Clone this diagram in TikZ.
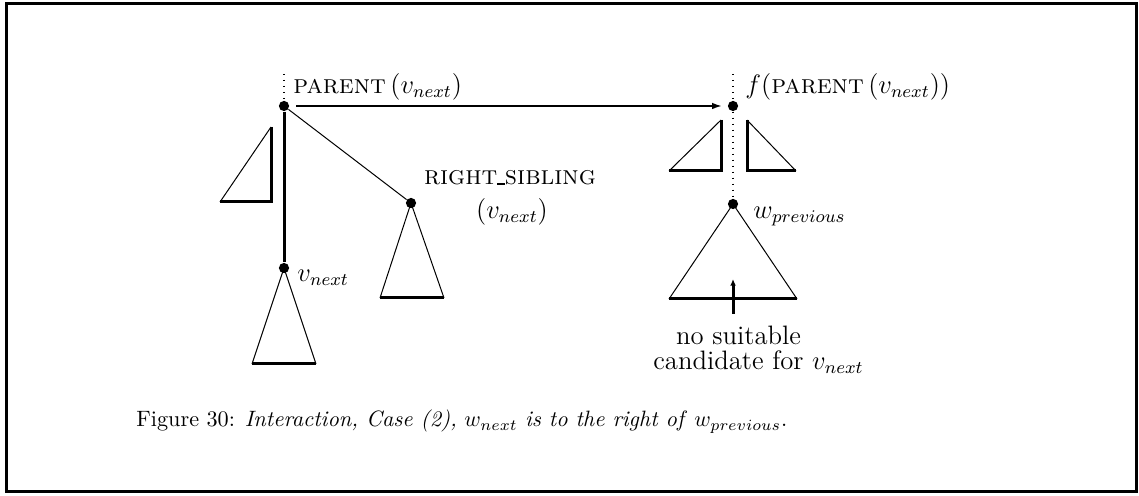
\documentclass[tikz,border=0pt]{standalone}
\usetikzlibrary{arrows.meta}
\begin{document}
\begin{tikzpicture}[x=0.45pt,y=-0.45pt,
  dot/.style={circle,fill,inner sep=0pt,minimum size=4.6pt},
  thickline/.style={line width=1.35pt},
  thinline/.style={line width=0.45pt},
  dotline/.style={line width=0.5pt,dash pattern=on 0.5pt off 2.2pt},
  lbl/.style={inner sep=0pt,font=\fontsize{12}{14.4}\selectfont},
  arr/.style={-{Latex[length=4.5pt,width=3pt]}},
  sarr/.style={-{Latex[length=3pt,width=2.6pt]}}]
\useasboundingbox (0,0) rectangle (1139,496);
\draw[line width=1.35pt] (6.5,3.5) rectangle (1136.5,491.5);

% left tree
\node[dot] (p) at (284,106) {};
\node[dot] (vn) at (284,268) {};
\node[dot] (rs) at (411,203) {};
\coordinate (ptop) at (284,74);
\draw[dotline] (ptop) -- (p);
\draw[thickline] (p) -- (vn);
\draw[thinline] (p) -- (rs);
% left small subtree
\draw[thinline] (271,127) -- (220,202);
\draw[thickline] (271,127) -- (271,202) -- (220,202);
% v_next subtree
\draw[thinline] (vn.center) -- (252,364);
\draw[thinline] (vn.center) -- (316,364);
\draw[thickline] (252,364) -- (316,364);
% right sibling subtree
\draw[thinline] (rs.center) -- (380,298);
\draw[thinline] (rs.center) -- (444,298);
\draw[thickline] (380,298) -- (444,298);

\node[lbl,anchor=base west] (lp) at (293,94) {\textsc{parent}\,$(v_{next})$};
\node[lbl,anchor=base west] (lvn) at (297,282) {$v_{next}$};
\node[lbl,anchor=base] (lrs1) at (510,185) {\textsc{right}\rule{3.4pt}{0.9pt}\textsc{sibling}};
\node[lbl,anchor=base] (lrs2) at (512,219) {$(v_{next})$};

% right tree
\node[dot] (fp) at (733,106) {};
\node[dot] (wp) at (733,204) {};
\coordinate (fptop) at (733,74);
\draw[dotline] (fptop) -- (fp);
\draw[dotline] (fp) -- (wp);
\draw[thinline] (721,120) -- (669,171);
\draw[thickline] (721,120) -- (721,171) -- (669,171);
\draw[thinline] (747,120) -- (796,171);
\draw[thickline] (747,120) -- (747,171) -- (796,171);
\draw[thinline] (wp.center) -- (669,299);
\draw[thinline] (wp.center) -- (797,299);
\draw[thickline] (669,299) -- (797,299);
\coordinate (ab) at (733,314);
\coordinate (at) at (733,279);
\draw[thickline,sarr] (ab) -- (at);

\node[lbl,anchor=base west] (lfp) at (745,94) {$f($\textsc{parent}\,$(v_{next}))$};
\node[lbl,anchor=base west] (lwp) at (753,219) {$w_{previous}$};
\node[lbl,anchor=base] (ns1) at (738.5,345) {no suitable};
\node[lbl,anchor=base] (ns2) at (758.5,370) {candidate for $v_{next}$};

% main arrow
\coordinate (as) at (296,106);
\coordinate (ae) at (722,106);
\draw[line width=0.8pt,arr] (as) -- (ae);

% caption
\node[inner sep=0pt,anchor=base west] (cap) at (136,427) {Figure 30: \textit{Interaction, Case (2),} $w_{next}$ \textit{is to the right of} $w_{previous}$.};
\end{tikzpicture}
\end{document}
